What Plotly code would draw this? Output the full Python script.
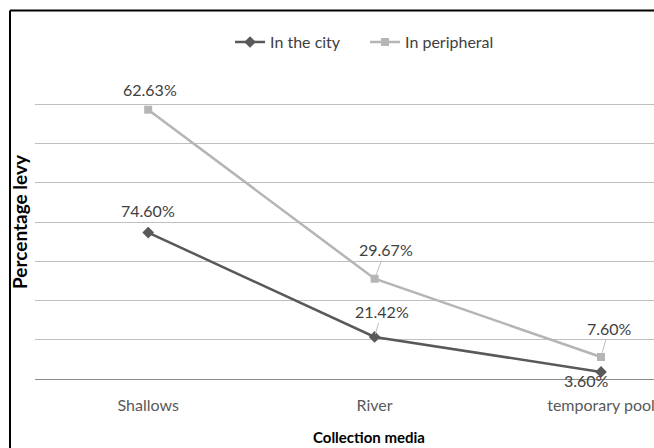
import plotly.graph_objects as go

# Collection media and share of samples (%) per zone
media = ["Shallows", "River", "temporary pool"]
city_pct = [74.60, 21.42, 3.60]
peripheral_pct = [62.63, 29.67, 7.60]

FONT = "Lato, Liberation Sans, sans-serif"
CITY_COLOR = "#595959"
PERI_COLOR = "#b5b5b5"

x_idx = list(range(len(media)))

fig = go.Figure()
# Stacked line chart: the peripheral series sits on top of the city series
fig.add_trace(go.Scatter(
    x=x_idx, y=city_pct, name="In the city", stackgroup="one", fill="none",
    mode="lines+markers",
    line=dict(color=CITY_COLOR, width=2.5),
    marker=dict(symbol="diamond", size=9, color=CITY_COLOR),
))
fig.add_trace(go.Scatter(
    x=x_idx, y=peripheral_pct, name="In peripheral", stackgroup="one", fill="none",
    mode="lines+markers",
    line=dict(color=PERI_COLOR, width=2.5),
    marker=dict(symbol="square", size=8, color=PERI_COLOR),
))

stacked_peri = [c + p for c, p in zip(city_pct, peripheral_pct)]

# data labels: (dx, dy) offsets in pixels, leader line or not
city_offsets = [(0, 22, False), (7, 25, True), (-15, -9, False)]
peri_offsets = [(2, 20, False), (11, 29, True), (8, 29, True)]

annotations = []


def add_labels(values, ys, offsets):
    for i, (v, yv, (dx, dy, leader)) in enumerate(zip(values, ys, offsets)):
        a = dict(x=i, y=yv, xref="x", yref="y", text=f"{v:.2f}%",
                 font=dict(family=FONT, size=16, color="#404040"))
        if leader:
            a.update(showarrow=True, ax=dx, ay=-dy, arrowhead=0,
                     arrowwidth=1, arrowcolor="#bfbfbf", standoff=3)
        else:
            a.update(showarrow=False, xshift=dx, yshift=dy)
        annotations.append(a)


add_labels(city_pct, city_pct, city_offsets)
add_labels(peripheral_pct, stacked_peri, peri_offsets)

# x-axis title, centred on the full category band
annotations.append(dict(
    text="<b>Collection media</b>", xref="paper", yref="paper",
    x=0.54, y=-0.185, xanchor="center", yanchor="middle", showarrow=False,
    font=dict(family=FONT, size=15, color="black"),
))

fig.update_layout(
    width=654, height=448,
    margin=dict(l=35, r=0, t=65, b=69),
    paper_bgcolor="white", plot_bgcolor="white",
    font=dict(family=FONT, size=16, color="#595959"),
    showlegend=True,
    legend=dict(orientation="h", x=0.3151, xanchor="left", y=1.073, yanchor="middle",
                font=dict(family=FONT, size=16, color="#404040"),
                bgcolor="rgba(0,0,0,0)", itemwidth=30,
                entrywidth=90, entrywidthmode="pixels"),
    annotations=annotations,
    shapes=[
        dict(type="line", xref="paper", yref="paper", x0=-0.0404, x1=-0.0404,
             y0=-0.3, y1=1.1737, line=dict(color="black", width=2)),
        dict(type="line", xref="paper", yref="paper", x0=-0.0404, x1=1.1,
             y0=1.1737, y1=1.1737, line=dict(color="black", width=2)),
    ],
)
fig.update_xaxes(
    range=[-0.5, 2.234], tickmode="array", tickvals=x_idx, ticktext=media,
    showgrid=False, zeroline=False, showline=False, ticks="",
    tickfont=dict(family=FONT, size=16, color="#595959"),
    ticklabelstandoff=15, ticklabeloverflow="allow",
)
fig.update_yaxes(
    range=[0, 160], dtick=20, showticklabels=False, ticks="",
    showgrid=True, gridcolor="#bfbfbf", gridwidth=1,
    zeroline=True, zerolinecolor="#8c8c8c", zerolinewidth=1,
    title=dict(text="<b>Percentage levy</b>", standoff=1,
               font=dict(family=FONT, size=19, color="black")),
)

fig.write_html("out.html")
